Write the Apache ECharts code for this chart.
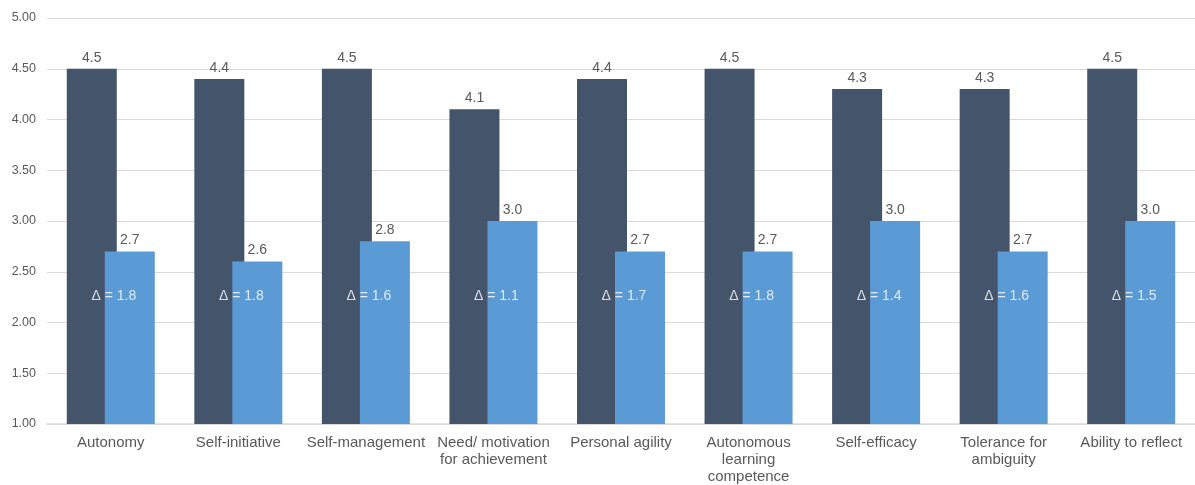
<!DOCTYPE html>
<html>
<head>
<meta charset="utf-8">
<script src="https://cdn.jsdelivr.net/npm/echarts@6/dist/echarts.min.js"></script>
<style>
  html, body { margin: 0; padding: 0; background: #fff; }
  #chart { width: 1195px; height: 485px; }
</style>
</head>
<body>
<div id="chart"></div>
<script>
// Competence categories (x axis)
const categories = [
  'Autonomy',
  'Self-initiative',
  'Self-management',
  'Need/ motivation\nfor achievement',
  'Personal agility',
  'Autonomous\nlearning\ncompetence',
  'Self-efficacy',
  'Tolerance for\nambiguity',
  'Ability to reflect'
];
// Dark bars (higher ratings)
const targetValues = [4.5, 4.4, 4.5, 4.1, 4.4, 4.5, 4.3, 4.3, 4.5];
// Light bars (lower ratings)
const currentValues = [2.7, 2.6, 2.8, 3.0, 2.7, 2.7, 3.0, 2.7, 3.0];
// Stated gaps between the two ratings
const deltas = [1.8, 1.8, 1.6, 1.1, 1.7, 1.8, 1.4, 1.6, 1.5];
// Y axis ticks
const yMin = 1.0, yMax = 5.0, yStep = 0.5;

const FONT = '"Liberation Sans", Arial, sans-serif';
const TEXT = '#595959';
const deltaLevel = 2.26;

const chart = echarts.init(document.getElementById('chart'), null, { renderer: 'canvas' });
chart.setOption({
  animation: false,
  textStyle: { fontFamily: FONT },
  grid: { left: 47, right: 0, top: 18, bottom: 60, containLabel: false },
  xAxis: {
    type: 'category',
    data: categories,
    axisLine: { show: true, lineStyle: { color: '#d9d9d9', width: 1.5 } },
    axisTick: { show: false },
    axisLabel: {
      interval: 0,
      color: TEXT,
      fontSize: 15,
      fontFamily: FONT,
      lineHeight: 17,
      margin: 10
    }
  },
  yAxis: {
    type: 'value',
    min: yMin,
    max: yMax,
    interval: yStep,
    axisLine: { show: false },
    axisTick: { show: false },
    splitLine: { lineStyle: { color: '#d9d9d9', width: 1 } },
    axisLabel: {
      color: TEXT,
      fontSize: 12.5,
      fontFamily: FONT,
      margin: 11,
      formatter: v => v.toFixed(2)
    }
  },
  series: [
    {
      type: 'bar',
      data: targetValues,
      barWidth: 50,
      barGap: '-24%',
      itemStyle: { color: '#44546A' },
      label: {
        show: true,
        position: 'top',
        distance: 4,
        color: TEXT,
        fontSize: 14,
        fontFamily: FONT,
        formatter: p => p.value.toFixed(1)
      }
    },
    {
      type: 'bar',
      data: currentValues,
      barWidth: 50,
      barGap: '-24%',
      itemStyle: { color: '#5B9BD5' },
      label: {
        show: true,
        position: 'top',
        distance: 4,
        color: TEXT,
        fontSize: 14,
        fontFamily: FONT,
        formatter: p => p.value.toFixed(1)
      }
    },
    {
      type: 'scatter',
      data: deltas.map(() => deltaLevel),
      symbolSize: 0,
      silent: true,
      z: 5,
      label: {
        show: true,
        position: 'inside',
        offset: [3, 0],
        color: '#ffffff',
        fontSize: 14,
        fontFamily: FONT,
        formatter: p => '\u0394 = ' + deltas[p.dataIndex].toFixed(1)
      }
    }
  ]
});
</script>
</body>
</html>
